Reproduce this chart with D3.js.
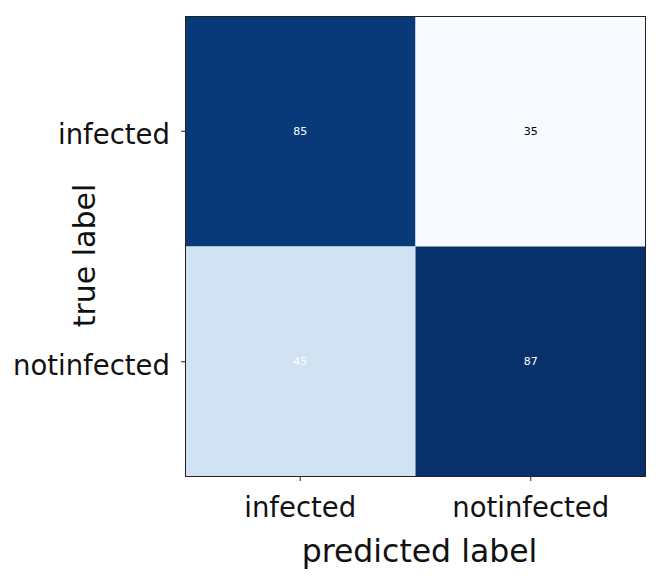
<!DOCTYPE html>
<html>
<head>
<meta charset="utf-8">
<script src="https://cdn.jsdelivr.net/npm/d3@7"></script>
<style>
  html, body { margin: 0; padding: 0; background: #fff; }
  svg { display: block; }
</style>
</head>
<body>
<svg id="chart" width="660" height="581"></svg>
<script>
const trueLabels = ["infected", "notinfected"];
const predictedLabels = ["infected", "notinfected"];
const matrixValues = [
  [85, 35],
  [45, 87]
];
const axisTitles = { x: "predicted label", y: "true label" };

const svg = d3.select("#chart");
const margin = { left: 185, top: 16, size: 461 };

const x = d3.scaleBand().domain(predictedLabels).range([margin.left, margin.left + margin.size]);
const y = d3.scaleBand().domain(trueLabels).range([margin.top, margin.top + margin.size]);

const flat = matrixValues.flat();
const vmin = d3.min(flat), vmax = d3.max(flat);
const color = d3.scaleSequential(d3.interpolateBlues).domain([vmin, vmax]);
const thresh = vmax / 2;

const cells = [];
trueLabels.forEach((t, i) => predictedLabels.forEach((p, j) => cells.push({ t, p, v: matrixValues[i][j] })));

svg.append("g").selectAll("rect").data(cells).join("rect")
  .attr("x", d => x(d.p))
  .attr("y", d => y(d.t))
  .attr("width", x.bandwidth())
  .attr("height", y.bandwidth())
  .attr("fill", d => color(d.v));

svg.append("g").selectAll("text").data(cells).join("text")
  .attr("x", d => x(d.p) + x.bandwidth() / 2)
  .attr("y", d => y(d.t) + y.bandwidth() / 2)
  .attr("text-anchor", "middle")
  .attr("dominant-baseline", "central")
  .attr("font-family", "DejaVu Sans")
  .attr("font-size", 11)
  .attr("fill", d => d.v > thresh ? "#fff" : "#000")
  .text(d => d.v);

// frame
svg.append("rect")
  .attr("x", margin.left + 0.5).attr("y", margin.top + 0.5)
  .attr("width", margin.size - 1).attr("height", margin.size - 1)
  .attr("fill", "none").attr("stroke", "#222").attr("stroke-width", 1);

const xAxis = svg.append("g")
  .attr("transform", `translate(0,${margin.top + margin.size})`)
  .call(d3.axisBottom(x).tickSize(4).tickPadding(16));
const yAxis = svg.append("g")
  .attr("transform", `translate(${margin.left},0)`)
  .call(d3.axisLeft(y).tickSize(4).tickPadding(11));

[xAxis, yAxis].forEach(a => {
  a.select(".domain").remove();
  a.selectAll(".tick line").attr("stroke", "#222");
  a.selectAll(".tick text")
    .attr("font-family", "DejaVu Sans")
    .attr("font-size", 27.5)
    .attr("fill", "#111");
});
yAxis.selectAll(".tick text").attr("dy", "0.47em");

svg.append("text")
  .attr("x", margin.left + margin.size / 2 + 4)
  .attr("y", 562)
  .attr("text-anchor", "middle")
  .attr("font-family", "DejaVu Sans")
  .attr("font-size", 31.5)
  .attr("fill", "#111")
  .text(axisTitles.x);

svg.append("text")
  .attr("transform", `translate(95,${margin.top + margin.size / 2 + 9}) rotate(-90)`)
  .attr("text-anchor", "middle")
  .attr("font-family", "DejaVu Sans")
  .attr("font-size", 30)
  .attr("fill", "#111")
  .text(axisTitles.y);
</script>
</body>
</html>
